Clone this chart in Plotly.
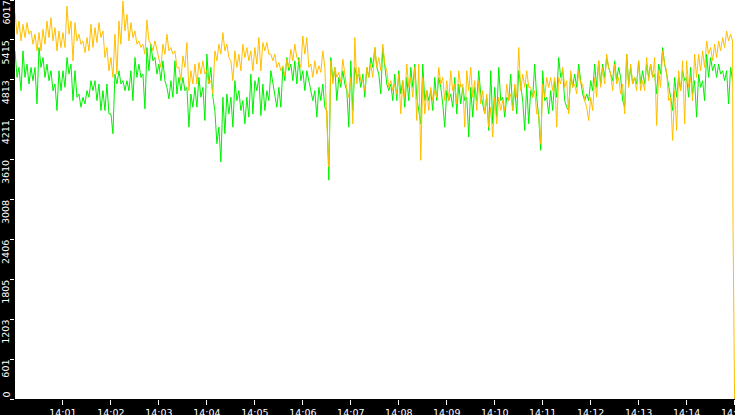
import pandas as pd
import plotly.graph_objects as go

day = '2024-01-01'
# one column every 5 s; each column has a high and a low reading
col_times = pd.date_range(f'{day} 14:00:00', periods=180, freq='5s')

green_high = [
    5250, 5000, 5250, 5050, 5000, 5000, 5300, 5150, 5050, 4950, 4750, 4950, 4950, 5150, 5050,
    4950, 4600, 4550, 4650, 4800, 4800, 4750, 4650, 4750, 4300, 4900, 4950, 4800, 4800, 4950,
    5150, 5050, 4900, 5300, 5350, 5150, 5050, 5100, 4700, 4800, 5100, 4850, 4850, 4700, 4600,
    4700, 4850, 4700, 5200, 5000, 4350, 4100, 4550, 4600, 4550, 4800, 4650, 4500, 4550, 4900,
    4800, 4850, 4750, 4650, 4950, 4600, 4700, 5000, 5150, 5050, 5100, 5150, 4950, 4950, 4600,
    4650, 4700, 4750, 4350, 5150, 5000, 4850, 4950, 4650, 5100, 5000, 4900, 4900, 5000, 5150,
    5300, 4900, 5300, 4750, 4750, 4900, 4950, 4800, 4850, 5000, 5050, 4350, 5050, 4650, 4650,
    4850, 4850, 4450, 4650, 4600, 4850, 4750, 4700, 4550, 4700, 4700, 4950, 4450, 4550, 4950,
    4700, 5000, 4550, 4550, 4900, 4700, 4950, 4500, 4750, 4650, 5050, 4250, 4950, 4550, 4650,
    4800, 5150, 4950, 4400, 4900, 4900, 5050, 4600, 4600, 4800, 5050, 5100, 5050, 5150, 4900,
    5100, 5000, 4500, 5200, 5000, 4850, 5100, 4950, 5050, 5050, 4900, 5050, 5300, 4900, 4550,
    4850, 4850, 4950, 4850, 5000, 4800, 4900, 4800, 5200, 5150, 5050, 5050, 4950, 4950, 5000,
]
green_low = [
    4850, 4650, 4850, 4750, 4800, 4450, 5000, 4850, 4800, 4650, 4350, 4650, 4700, 4900, 4500,
    4550, 4400, 4450, 4550, 4650, 4500, 4350, 4350, 4300, 4000, 4750, 4750, 4650, 4650, 4500,
    4850, 4850, 4375, 4950, 5100, 4900, 4800, 4800, 4525, 4550, 4600, 4650, 4650, 4100, 4400,
    4400, 4550, 4200, 4750, 4550, 3850, 3575, 4000, 4300, 4100, 4500, 4350, 4150, 4250, 4300,
    4650, 4275, 4350, 4500, 4750, 4400, 4400, 4800, 4950, 4800, 4750, 4800, 4650, 4800, 4500,
    4250, 4500, 4400, 3300, 4800, 4500, 4700, 4750, 4100, 4350, 4850, 4700, 4550, 4850, 5000,
    5000, 4600, 5050, 4650, 4500, 4500, 4600, 4400, 4500, 4700, 4550, 4150, 4500, 4500, 4350,
    4500, 4700, 4100, 4500, 4400, 4300, 4450, 4500, 3950, 4250, 4500, 4600, 4300, 4050, 4150,
    4250, 4500, 4250, 4500, 4350, 4300, 4700, 4050, 4150, 4550, 4550, 3750, 4500, 4300, 4350,
    4550, 4850, 4500, 4350, 4700, 4700, 4800, 4500, 4500, 4650, 4700, 4750, 4850, 5000, 4800,
    4800, 4850, 4400, 4750, 4750, 4750, 4750, 4750, 4850, 4850, 4600, 4900, 5050, 4750, 4350,
    4550, 4650, 4800, 4550, 4600, 4250, 4700, 4500, 4850, 4950, 4850, 4900, 4800, 4450, 4800,
]

orange_high = [
    5825, 5700, 5650, 5675, 5550, 5500, 5525, 5575, 5700, 5750, 5600, 5550, 5525, 5925, 5700,
    5675, 5500, 5400, 5450, 5650, 5600, 5675, 5550, 5300, 5150, 5500, 5700, 6000, 5800, 5675,
    5550, 5400, 5350, 5715, 5350, 5400, 5150, 5350, 5500, 5300, 5250, 5000, 5175, 5375, 4950,
    5050, 5075, 5100, 4950, 4800, 5250, 5350, 5525, 5350, 5100, 5250, 5200, 5350, 5300, 5250,
    5300, 5450, 5375, 5375, 5200, 5200, 5075, 5025, 5125, 5275, 5350, 5100, 5475, 5450, 5050,
    5100, 5025, 5250, 4175, 5100, 5000, 4925, 5125, 4675, 4850, 5450, 5000, 4800, 5000, 5050,
    5300, 5150, 5350, 4950, 4800, 4750, 4900, 4800, 5050, 4850, 5000, 5050, 4850, 4650, 4700,
    4650, 5000, 4850, 4800, 4950, 4750, 4950, 4750, 4950, 5000, 4800, 4800, 4650, 4600, 4400,
    4550, 4550, 4500, 4750, 4600, 4750, 5300, 4900, 4950, 4700, 4650, 4300, 4750, 4850, 4850,
    4850, 4850, 5000, 4800, 4950, 4750, 4950, 4750, 4400, 4550, 4850, 5100, 5000, 5200, 4900,
    5050, 4850, 4750, 5200, 5050, 4850, 5100, 4800, 5150, 5050, 5150, 4950, 5250, 4950, 4550,
    4650, 4950, 5100, 5100, 4850, 5200, 5200, 5250, 5400, 5300, 5350, 5400, 5450, 5550, 5500,
]
orange_low = [
    5500, 5400, 5450, 5500, 5350, 5250, 5250, 5350, 5450, 5400, 5250, 5300, 5300, 5500, 5100,
    5400, 5350, 5225, 5250, 5300, 5375, 5450, 5150, 4950, 4850, 4900, 5350, 5550, 5400, 5450,
    5350, 5300, 5200, 5400, 5250, 5250, 5000, 5200, 5250, 5200, 5000, 4800, 5000, 4650, 4750,
    4750, 4900, 4900, 4750, 4600, 5100, 5200, 5250, 5150, 4800, 5000, 4950, 5150, 5100, 4950,
    5050, 4950, 5250, 5200, 5100, 5000, 4950, 4875, 5000, 5100, 5150, 5000, 5200, 5000, 4850,
    4900, 4925, 5000, 3500, 4750, 4850, 4775, 4900, 4550, 4150, 4750, 4800, 4650, 4850, 4850,
    5000, 4950, 5050, 4700, 4650, 4600, 4300, 4550, 4700, 4550, 4200, 3600, 4300, 4350, 4500,
    4550, 4750, 4500, 4500, 4650, 4450, 4700, 4100, 4650, 4550, 4350, 4450, 4300, 4100, 3950,
    4150, 4350, 4350, 4500, 4350, 4550, 4650, 4700, 4700, 4550, 4300, 3850, 4550, 4700, 4650,
    4100, 4750, 4700, 4300, 4700, 4600, 4750, 4500, 4200, 4350, 4550, 4700, 4750, 5000, 4650,
    4750, 4600, 4300, 4700, 4750, 4650, 4650, 4650, 4800, 4850, 4125, 4700, 5050, 4500, 3900,
    4050, 4650, 4150, 4700, 4500, 4850, 4950, 5000, 5200, 5100, 5150, 5250, 5300, 5400, 5400,
]
# the orange feed falls away in the last seconds
orange_tail_times = [f'{day} 14:14:58', f'{day} 14:15:00']
orange_tail_values = [2650, 0]

y_max = 6017
y_tick_values = [0, 601, 1203, 1805, 2406, 3008, 3610, 4211, 4813, 5415, 6017]
x_tick_times = pd.date_range(f'{day} 14:01', f'{day} 14:15', freq='1min')


def zigzag(high, low):
    # high reading at the column start, low reading half a step later
    xs, ys = [], []
    for t, h, l in zip(col_times, high, low):
        xs += [t, t + pd.Timedelta(seconds=2.5)]
        ys += [h, l]
    return xs, ys


gx, gy = zigzag(green_high, green_low)
ox, oy = zigzag(orange_high, orange_low)
ox += list(pd.to_datetime(orange_tail_times))
oy += orange_tail_values

fig = go.Figure()
fig.add_trace(go.Scatter(x=gx, y=gy, mode='lines', line=dict(color='#00f000', width=1)))
fig.add_trace(go.Scatter(x=ox, y=oy, mode='lines', line=dict(color='#ffbf00', width=1)))

# rotated y labels hang below their tick, like the original
for v in y_tick_values:
    fig.add_annotation(x=0, xref='paper', y=v, yref='y', text=str(v),
                       textangle=-90, showarrow=False, xshift=-9.5,
                       xanchor='center', yanchor='bottom' if v == 0 else 'top',
                       borderpad=0,
                       font=dict(family='DejaVu Sans', size=9.5, color='white'))

fig.update_layout(
    width=735, height=415,
    margin=dict(l=15, r=0, t=0, b=16, autoexpand=False),
    paper_bgcolor='black', plot_bgcolor='white',
    showlegend=False,
    font=dict(family='DejaVu Sans', size=9.5, color='white'),
)
# a hair past 14:15 so the last (cut-off) tick label is still drawn
fig.update_xaxes(range=[f'{day} 14:00:00', f'{day} 14:15:00.5'], automargin=False,
                 tickvals=x_tick_times, tickformat='%H:%M', ticklabeloverflow='allow',
                 ticks='outside', ticklen=5, tickcolor='white', tickwidth=1,
                 showgrid=False, zeroline=False, showline=False)
fig.update_yaxes(range=[0, y_max], automargin=False,
                 tickvals=y_tick_values, showticklabels=False,
                 ticks='outside', ticklen=4, tickcolor='white', tickwidth=1,
                 showgrid=False, zeroline=False, showline=False)

# drop the page's default body margin so the chart fills the window
fig.write_html('out.html', config={'displayModeBar': False},
               post_script="document.body.style.margin='0';"
                           "document.body.style.background='black';")
